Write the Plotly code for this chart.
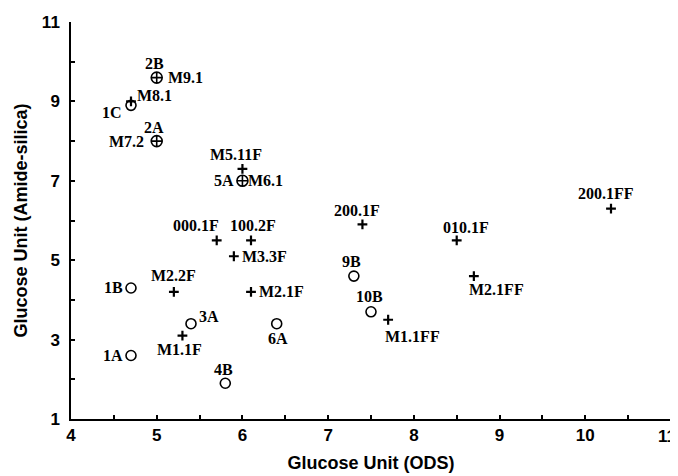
import plotly.graph_objects as go

# ---- data ----
plus_labels = ["M8.1", "M5.11F", "000.1F", "100.2F", "M3.3F", "M2.2F", "M2.1F",
               "M1.1F", "200.1F", "010.1F", "M2.1FF", "M1.1FF", "200.1FF"]
plus_x = [4.7, 6.0, 5.7, 6.1, 5.9, 5.2, 6.1, 5.3, 7.4, 8.5, 8.7, 7.7, 10.3]
plus_y = [9.0, 7.3, 5.5, 5.5, 5.1, 4.2, 4.2, 3.1, 5.9, 5.5, 4.6, 3.5, 6.3]

circle_labels = ["1C", "1B", "1A", "3A", "4B", "6A", "9B", "10B"]
circle_x = [4.7, 4.7, 4.7, 5.4, 5.8, 6.4, 7.3, 7.5]
circle_y = [8.9, 4.3, 2.6, 3.4, 1.9, 3.4, 4.6, 3.7]

both_labels_a = ["2B", "2A", "5A"]
both_labels_m = ["M9.1", "M7.2", "M6.1"]
both_x = [5.0, 5.0, 6.0]
both_y = [9.6, 8.0, 7.0]

x_ticks = [4, 4.5, 5, 5.5, 6, 6.5, 7, 7.5, 8, 8.5, 9, 9.5, 10, 10.5, 11]
x_tick_text = ["4", "", "5", "", "6", "", "7", "", "8", "", "9", "", "10", "", "11"]
y_ticks = [1, 2, 3, 4, 5, 6, 7, 8, 9, 10, 11]
y_tick_text = ["1", "", "3", "", "5", "", "7", "", "9", "", "11"]

# ---- label placement (style only): xanchor, yanchor, xshift, yshift ----
place = {
    "M8.1": ("left", "middle", 4, 6),
    "M5.11F": ("center", "middle", -6, 14),
    "000.1F": ("right", "middle", 4, 15),
    "100.2F": ("center", "middle", 2, 15),
    "M3.3F": ("left", "middle", 6, 0),
    "M2.2F": ("center", "middle", 0, 16),
    "M2.1F": ("left", "middle", 6, 0),
    "M1.1F": ("center", "middle", -3, -14),
    "200.1F": ("center", "middle", -5, 14),
    "010.1F": ("center", "middle", 9, 13),
    "M2.1FF": ("left", "middle", -7, -13),
    "M1.1FF": ("left", "middle", -5, -17),
    "200.1FF": ("center", "middle", -5, 15),
    "1C": ("right", "middle", -7, -7),
    "1B": ("right", "middle", -6, 0),
    "1A": ("right", "middle", -6, 0),
    "3A": ("left", "middle", 6, 7),
    "4B": ("center", "middle", -2, 14),
    "6A": ("center", "middle", 1, -15),
    "9B": ("center", "middle", -2, 15),
    "10B": ("center", "middle", -2, 15),
    "2B": ("center", "middle", -2, 14),
    "2A": ("center", "middle", -3, 14),
    "5A": ("right", "middle", -6, 0),
    "M9.1": ("left", "middle", 9, 0),
    "M7.2": ("right", "middle", -11, 0),
    "M6.1": ("left", "middle", 4, 0),
}

fig = go.Figure()
fig.add_trace(go.Scatter(
    x=circle_x, y=circle_y, mode="markers",
    marker=dict(symbol="circle-open", size=10, color="black", line=dict(width=1.6)),
    hoverinfo="skip", showlegend=False))
fig.add_trace(go.Scatter(
    x=both_x, y=both_y, mode="markers",
    marker=dict(symbol="circle-cross-open", size=11, color="black", line=dict(width=1.6)),
    hoverinfo="skip", showlegend=False))
fig.add_trace(go.Scatter(
    x=plus_x, y=plus_y, mode="markers",
    marker=dict(symbol="cross-thin-open", size=7, color="black", line=dict(width=2.2, color="black")),
    hoverinfo="skip", showlegend=False))

label_font = dict(family="Liberation Serif", size=16, color="black", weight="bold")

def add_labels(labels, xs, ys):
    for lab, x, y in zip(labels, xs, ys):
        xa, ya, dx, dy = place[lab]
        fig.add_annotation(x=x, y=y, xref="x", yref="y", text=lab, showarrow=False,
                           xanchor=xa, yanchor=ya, xshift=dx, yshift=dy, font=label_font)

add_labels(plus_labels, plus_x, plus_y)
add_labels(circle_labels, circle_x, circle_y)
add_labels(both_labels_a, both_x, both_y)
add_labels(both_labels_m, both_x, both_y)

tick_font = dict(family="Liberation Sans", size=17, color="black", weight="bold")
title_font = dict(family="Liberation Sans", size=18, color="black", weight="bold")
axis_common = dict(showline=True, linecolor="black", linewidth=1.5, ticks="inside",
                   ticklen=4, tickwidth=1.5, tickcolor="black", showgrid=False,
                   zeroline=False, tickfont=tick_font, mirror=False, automargin=False)

# last x tick label is drawn as an annotation nudged left so it stays inside the page
x_tick_text_axis = x_tick_text[:-1] + [""]
fig.add_annotation(x=1, y=0, xref="paper", yref="paper", text=x_tick_text[-1],
                   showarrow=False, xanchor="center", yanchor="middle",
                   xshift=-4, yshift=-17, font=tick_font)

fig.update_xaxes(range=[4, 11], tickmode="array", tickvals=x_ticks, ticktext=x_tick_text_axis,
                 title=dict(text="Glucose Unit (ODS)", font=title_font, standoff=12),
                 **axis_common)
fig.update_yaxes(range=[1, 11], tickmode="array", tickvals=y_ticks, ticktext=y_tick_text,
                 ticklabelstandoff=6,
                 title=dict(text="Glucose Unit (Amide-silica)", font=title_font, standoff=10),
                 **axis_common)

# page body has an 8px margin, so offsets compensate
fig.update_layout(width=678, height=476, plot_bgcolor="white", paper_bgcolor="white",
                  margin=dict(l=63, r=15, t=14, b=65), showlegend=False)

fig.write_html("out.html")
